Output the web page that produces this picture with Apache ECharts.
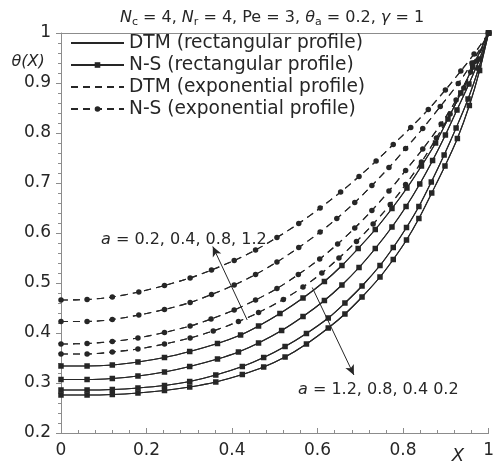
<!DOCTYPE html>
<html>
<head>
<meta charset="utf-8">
<script src="https://cdn.jsdelivr.net/npm/echarts@6/dist/echarts.min.js"></script>
<style>
  html, body { margin: 0; padding: 0; background: #fff; }
  #chart { width: 497px; height: 466px; }
</style>
</head>
<body>
<div id="chart"></div>
<script>
// a values and curves as [X, theta] pairs
const aValues = [0.2, 0.4, 0.8, 1.2]

const rectA02 = [[0,0.276],[0.061,0.276],[0.12,0.277],[0.18,0.28],[0.242,0.285],[0.301,0.292],[0.362,0.302],[0.424,0.317],[0.474,0.332],[0.524,0.352],[0.574,0.378],[0.625,0.41],[0.664,0.438],[0.704,0.472],[0.746,0.512],[0.777,0.547],[0.808,0.586],[0.837,0.629],[0.867,0.68],[0.898,0.734],[0.927,0.789],[0.955,0.855],[0.979,0.925],[1,1]]
const rectA04 = [[0,0.286],[0.061,0.286],[0.12,0.287],[0.18,0.29],[0.242,0.295],[0.301,0.303],[0.362,0.316],[0.424,0.333],[0.474,0.351],[0.524,0.373],[0.574,0.399],[0.625,0.43],[0.664,0.46],[0.704,0.494],[0.746,0.535],[0.777,0.571],[0.808,0.611],[0.837,0.653],[0.866,0.702],[0.896,0.756],[0.924,0.81],[0.952,0.868],[0.977,0.93],[1,1]]
const rectA08 = [[0,0.307],[0.061,0.307],[0.12,0.309],[0.18,0.314],[0.242,0.322],[0.301,0.333],[0.366,0.348],[0.415,0.362],[0.462,0.38],[0.516,0.405],[0.566,0.433],[0.616,0.465],[0.657,0.496],[0.697,0.531],[0.735,0.569],[0.774,0.612],[0.807,0.653],[0.839,0.698],[0.869,0.745],[0.899,0.796],[0.926,0.846],[0.954,0.898],[0.979,0.948],[1,1]]
const rectA12 = [[0,0.334],[0.061,0.334],[0.12,0.336],[0.18,0.342],[0.242,0.351],[0.301,0.363],[0.366,0.379],[0.42,0.396],[0.462,0.414],[0.512,0.439],[0.566,0.47],[0.616,0.503],[0.657,0.535],[0.695,0.569],[0.735,0.607],[0.774,0.649],[0.809,0.69],[0.843,0.734],[0.876,0.78],[0.905,0.828],[0.935,0.88],[0.963,0.932],[1,1]]

const expA02 = [[0,0.358],[0.061,0.358],[0.12,0.362],[0.18,0.368],[0.242,0.378],[0.302,0.39],[0.356,0.404],[0.415,0.423],[0.462,0.441],[0.52,0.467],[0.566,0.492],[0.61,0.52],[0.65,0.55],[0.691,0.583],[0.73,0.618],[0.77,0.657],[0.806,0.697],[0.843,0.742],[0.878,0.79],[0.91,0.838],[0.942,0.89],[0.972,0.944],[1,1]]
const expA04 = [[0,0.378],[0.061,0.379],[0.12,0.383],[0.18,0.39],[0.242,0.401],[0.302,0.414],[0.351,0.428],[0.405,0.446],[0.455,0.466],[0.505,0.489],[0.555,0.517],[0.605,0.548],[0.647,0.578],[0.687,0.61],[0.727,0.645],[0.767,0.684],[0.806,0.725],[0.846,0.768],[0.889,0.818],[0.924,0.866],[0.958,0.922],[1,1]]
const expA08 = [[0,0.423],[0.061,0.423],[0.12,0.427],[0.182,0.436],[0.242,0.447],[0.302,0.461],[0.352,0.477],[0.405,0.496],[0.455,0.517],[0.505,0.542],[0.556,0.571],[0.606,0.602],[0.645,0.629],[0.687,0.661],[0.727,0.695],[0.767,0.731],[0.806,0.769],[0.846,0.809],[0.887,0.853],[0.929,0.899],[0.961,0.94],[1,1]]
const expA12 = [[0,0.466],[0.061,0.467],[0.12,0.472],[0.182,0.482],[0.242,0.495],[0.302,0.51],[0.352,0.526],[0.405,0.545],[0.455,0.566],[0.505,0.591],[0.556,0.619],[0.606,0.65],[0.654,0.682],[0.697,0.713],[0.737,0.744],[0.777,0.777],[0.818,0.811],[0.859,0.847],[0.899,0.886],[0.935,0.924],[0.966,0.958],[1,1]]

const rectCurves = [rectA02, rectA04, rectA08, rectA12]
const expCurves = [expA02, expA04, expA08, expA12]

const xTicks = [0, 0.2, 0.4, 0.6, 0.8, 1]

// arrow ends in data units [X, theta]
const arrowUp = [[0.4355, 0.426], [0.355, 0.573]]
const arrowDown = [[0.5876, 0.491], [0.685, 0.316]]

const names = ['DTM (rectangular profile)', 'N-S (rectangular profile)', 'DTM (exponential profile)', 'N-S (exponential profile)']
const ink = '#262626'
const font = 'DejaVu Sans'

const chart = echarts.init(document.getElementById('chart'))

const lineBase = { type: 'line', smooth: 0.3 }
const series = []
aValues.forEach((a, i) => {
  series.push(Object.assign({}, lineBase, {
    name: names[0], data: rectCurves[i], symbol: 'none',
    itemStyle: { color: ink }, lineStyle: { color: ink, width: 1.1 }, z: 2
  }))
  series.push(Object.assign({}, lineBase, {
    name: names[1], data: rectCurves[i], symbol: 'rect', symbolSize: 5.5, showSymbol: true,
    itemStyle: { color: ink }, lineStyle: { color: ink, width: 1.1 }, z: 3
  }))
  series.push(Object.assign({}, lineBase, {
    name: names[2], data: expCurves[i], symbol: 'none',
    itemStyle: { color: ink }, lineStyle: { color: ink, width: 1.1, type: [7, 5] }, z: 2
  }))
  series.push(Object.assign({}, lineBase, {
    name: names[3], data: expCurves[i], symbol: 'circle', symbolSize: 5.5, showSymbol: true,
    itemStyle: { color: ink }, lineStyle: { color: ink, width: 1.1, type: [7, 5] }, z: 3
  }))
})

series.push({
  type: 'line', data: [], silent: true,
  markLine: {
    silent: true, symbol: ['none', 'arrow'], symbolSize: [7, 10],
    label: { show: false },
    lineStyle: { color: ink, width: 1, type: 'solid' },
    data: [
      [{ coord: arrowUp[0] }, { coord: arrowUp[1] }],
      [{ coord: arrowDown[0] }, { coord: arrowDown[1] }]
    ]
  }
})

const axisGray = '#8c8c8c'

const option = {
  animation: false,
  grid: { left: 61, right: 2, top: 33, bottom: 33 },
  legend: {
    data: [
      { name: names[0], itemStyle: { opacity: 0 } },
      { name: names[1] },
      { name: names[2], itemStyle: { opacity: 0 } },
      { name: names[3] }
    ],
    orient: 'vertical',
    left: 65, top: 28,
    itemWidth: 53, itemHeight: 7, itemGap: 2,
    textStyle: { color: ink, fontSize: 18.6, lineHeight: 20, fontFamily: font }
  },
  xAxis: [{
    type: 'value', min: 0, max: 1, interval: 0.2,
    axisLine: { lineStyle: { color: axisGray } },
    axisTick: { inside: true, length: 5, lineStyle: { color: axisGray } },
    minorTick: { show: true, splitNumber: 5, length: 3, lineStyle: { color: axisGray } },
    splitLine: { show: false },
    axisLabel: { color: ink, fontSize: 17, fontFamily: font, margin: 9,
      formatter: v => xTicks.includes(+v.toFixed(1)) ? String(+v.toFixed(1)) : '' }
  }, {
    type: 'value', min: 0, max: 1, position: 'top',
    axisLine: { show: true, onZero: false, lineStyle: { color: axisGray } },
    axisTick: { show: false }, axisLabel: { show: false }, splitLine: { show: false }
  }],
  yAxis: {
    type: 'value', min: 0.2, max: 1, interval: 0.1,
    axisLine: { show: true, lineStyle: { color: axisGray } },
    axisTick: { show: true, length: 5, lineStyle: { color: axisGray } },
    minorTick: { show: true, splitNumber: 5, length: 3, lineStyle: { color: axisGray } },
    splitLine: { show: false },
    axisLabel: { color: ink, fontSize: 17, fontFamily: font, margin: 10,
      formatter: v => String(+v.toFixed(1)) }
  },
  graphic: [
    {
      type: 'text', x: 272, y: 18,
      style: {
        text: '{i|N}{s|c} = 4, {i|N}{s|r} = 4, Pe = 3, {i|θ}{s|a} = 0.2, {i|γ} = 1',
        align: 'center', verticalAlign: 'middle',
        fontSize: 16, fontFamily: font, fill: ink,
        rich: {
          i: { fontStyle: 'italic', fontSize: 16, fontFamily: font, fill: ink },
          s: { fontSize: 11, fontFamily: font, fill: ink, padding: [9, 0, 0, 0] }
        }
      }
    },
    {
      type: 'text', x: 28, y: 62,
      style: { text: 'θ(X)', align: 'center', verticalAlign: 'middle',
        fontSize: 16, fontStyle: 'italic', fontFamily: font, fill: ink }
    },
    {
      type: 'text', x: 458, y: 456,
      style: { text: 'X', align: 'center', verticalAlign: 'middle',
        fontSize: 18, fontStyle: 'italic', fontFamily: font, fill: ink }
    },
    {
      type: 'text', x: 101, y: 240,
      style: {
        text: '{i|a} = 0.2, 0.4, 0.8, 1.2', verticalAlign: 'middle',
        fontSize: 16, fontFamily: font, fill: ink,
        rich: { i: { fontStyle: 'italic', fontSize: 16, fontFamily: font, fill: ink } }
      }
    },
    {
      type: 'text', x: 298, y: 390,
      style: {
        text: '{i|a} = 1.2, 0.8, 0.4 0.2', verticalAlign: 'middle',
        fontSize: 16, fontFamily: font, fill: ink,
        rich: { i: { fontStyle: 'italic', fontSize: 16, fontFamily: font, fill: ink } }
      }
    }
  ],
  series: series
}

chart.setOption(option)
</script>
</body>
</html>
